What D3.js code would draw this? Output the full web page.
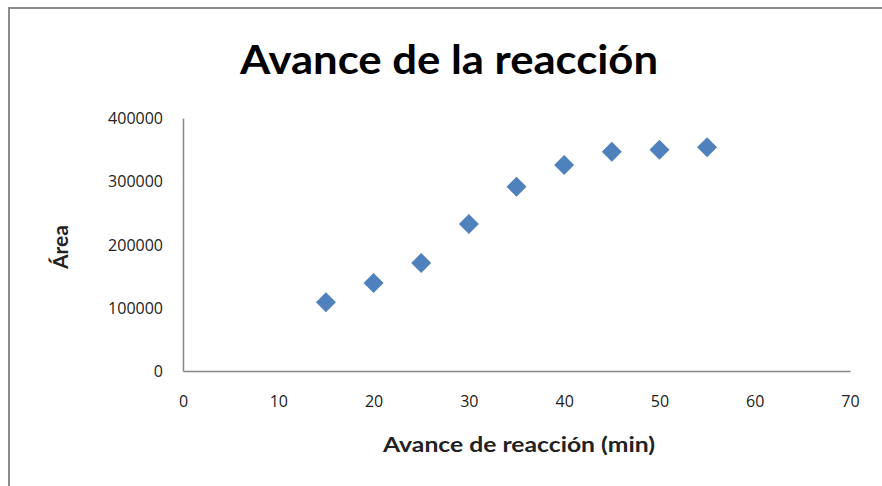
<!DOCTYPE html>
<html><head><meta charset="utf-8">
<script src="https://cdn.jsdelivr.net/npm/d3@7"></script>
<style>html,body{margin:0;padding:0;background:#fff;}</style>
</head><body>
<svg id="c" width="882" height="486"></svg>
<script>
const minutes = [15, 20, 25, 30, 35, 40, 45, 50, 55];
const areas = [108600, 139100, 170800, 232400, 291400, 325700, 346700, 349900, 353700];
const xTicks = [0, 10, 20, 30, 40, 50, 60, 70];
const yTicks = [0, 100000, 200000, 300000, 400000];
const titleText = "Avance de la reacción";
const xTitle = "Avance de reacción (min)";
const yTitle = "Área";

const svg = d3.select("#c");
svg.append("rect").attr("width",882).attr("height",486).attr("fill","#fff");
// frame
svg.append("path").attr("d","M9,486 V8 H882").attr("fill","none").attr("stroke","#8c8c8c").attr("stroke-width",2);

const x = d3.scaleLinear().domain([0,70]).range([183,850]);
const y = d3.scaleLinear().domain([0,400000]).range([371,118]);

const tickFont = "'Open Sans', 'DejaVu Sans', sans-serif";
const boldFont = "Lato, 'Open Sans', sans-serif";

const xAxis = svg.append("g").attr("transform","translate(0,371)")
  .call(d3.axisBottom(x).tickValues(xTicks).tickSize(0).tickPadding(30).tickFormat(d3.format("d")));
const yAxis = svg.append("g").attr("transform","translate(183,0)")
  .call(d3.axisLeft(y).tickValues(yTicks).tickSize(0).tickPadding(20).tickFormat(d3.format("d")));
[xAxis,yAxis].forEach(g=>{
  g.select(".domain").attr("stroke","#878787").attr("stroke-width",1.5);
  g.selectAll("text").attr("font-family",tickFont).attr("font-size",16).attr("fill","#222");
});
yAxis.selectAll("text").attr("dy","0.35em");
xAxis.selectAll("text").attr("dy","0.35em");

svg.append("text").attr("x",449).attr("y",74).attr("text-anchor","middle")
  .attr("font-family",boldFont).attr("font-weight","bold").attr("font-size",41)
  .attr("textLength",418).attr("lengthAdjust","spacingAndGlyphs")
  .attr("fill","#000").text(titleText);
svg.append("text").attr("x",519).attr("y",452).attr("text-anchor","middle")
  .attr("font-family",boldFont).attr("font-weight","bold").attr("font-size",21)
  .attr("textLength",272).attr("lengthAdjust","spacingAndGlyphs")
  .attr("fill","#222").text(xTitle);
svg.append("text").attr("transform","translate(68,247) rotate(-90)").attr("text-anchor","middle")
  .attr("font-family",boldFont).attr("font-weight","bold").attr("font-size",21)
  .attr("fill","#222").text(yTitle);

const sym = d3.symbol().type(d3.symbolSquare).size(200);
svg.append("g").selectAll("path").data(minutes).join("path")
  .attr("d", sym)
  .attr("transform",(d,i)=>`translate(${x(d)},${y(areas[i])}) rotate(45)`)
  .attr("fill","#4f81bd");
</script>
</body></html>
